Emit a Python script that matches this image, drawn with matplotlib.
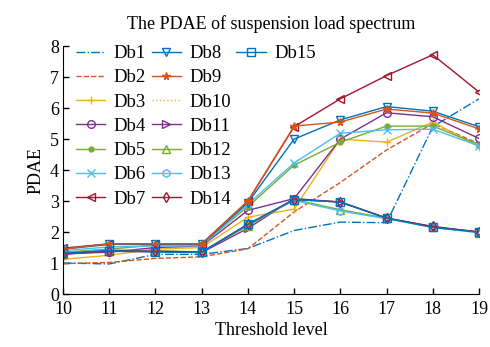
from matplotlib import pyplot as plt
from matplotlib.lines import Line2D

# Niveles de umbral (eje x)
levels = [10, 11, 12, 13, 14, 15, 16, 17, 18, 19]

db1 = [1.00, 0.97, 1.28, 1.28, 1.47, 2.05, 2.32, 2.30, 5.40, 6.30]
db2 = [0.98, 1.02, 1.15, 1.20, 1.46, 2.65, 3.60, 4.65, 5.50, 4.85]
db3 = [1.12, 1.25, 1.45, 1.50, 2.48, 2.74, 5.00, 4.90, 5.55, 4.75]
db4 = [1.30, 1.35, 1.50, 1.55, 2.70, 3.08, 5.00, 5.85, 5.72, 5.02]
db5 = [1.35, 1.45, 1.58, 1.60, 2.82, 4.16, 4.90, 5.42, 5.42, 4.82]
db6 = [1.40, 1.52, 1.55, 1.55, 2.90, 4.23, 5.19, 5.30, 5.32, 4.78]
db7 = [1.48, 1.62, 1.62, 1.62, 3.00, 5.40, 6.30, 7.05, 7.72, 6.52]
db8 = [1.45, 1.60, 1.60, 1.60, 2.95, 5.00, 5.62, 6.05, 5.90, 5.40]
db9 = [1.45, 1.62, 1.62, 1.62, 3.00, 5.42, 5.55, 5.97, 5.84, 5.33]
db10 = [1.30, 1.40, 1.38, 1.35, 2.25, 3.05, 2.95, 2.45, 2.15, 2.00]
db11 = [1.28, 1.38, 1.36, 1.34, 2.12, 3.08, 2.97, 2.45, 2.17, 2.00]
db12 = [1.30, 1.42, 1.40, 1.36, 2.20, 3.05, 2.72, 2.45, 2.15, 1.98]
db13 = [1.33, 1.42, 1.38, 1.36, 2.25, 3.02, 2.68, 2.43, 2.15, 1.98]
db14 = [1.30, 1.40, 1.38, 1.35, 2.25, 3.05, 2.97, 2.45, 2.18, 2.00]
db15 = [1.32, 1.40, 1.36, 1.34, 2.25, 3.05, 2.97, 2.45, 2.15, 2.00]

series = [db1, db2, db3, db4, db5, db6, db7, db8,
          db9, db10, db11, db12, db13, db14, db15]
names = [f'Db{i}' for i in range(1, 16)]

# Colores por defecto de MATLAB
blue = '#0072BD'
orange = '#D95319'
yellow = '#EDB120'
purple = '#7E2F8E'
green = '#77AC30'
cyan = '#4DBEEE'
darkred = '#A2142F'

styles = [
    (blue, '-.', None),
    (orange, '--', None),
    (yellow, '-', '+'),
    (purple, '-', 'o'),
    (green, '-', '.'),
    (cyan, '-', 'x'),
    (darkred, '-', '<'),
    (blue, '-', 'v'),
    (orange, '-', '*'),
    (yellow, ':', None),
    (purple, '-', '>'),
    (green, '-', '^'),
    (cyan, '-', 'h'),
    (darkred, '-', 'd'),
    (blue, '-', 's'),
]

plt.rcParams['font.family'] = ['Liberation Serif', 'DejaVu Serif']

fig = plt.figure(figsize=(4.9, 3.47), dpi=100)
ax = fig.add_axes([0.1286, 0.1527, 0.849, 0.7143])

handles = []
for data, name, (color, ls, mk) in zip(series, names, styles):
    filled = mk in ('.', '*')
    line, = ax.plot(levels, data, color=color, linestyle=ls, marker=mk,
                    markersize=5.5 if mk != '.' else 7,
                    markerfacecolor=color if filled else 'none',
                    markeredgewidth=1, linewidth=1.0, label=name)
    handles.append(line)

# Leyenda en 3 columnas: 7 + 7 + 1
blank = Line2D([], [], linestyle='none', marker=None)
order = handles[:7] + handles[7:14] + [handles[14]] + [blank] * 6
labels = names[:7] + names[7:14] + [names[14]] + [''] * 6
ax.legend(order, labels, ncol=3, frameon=False, loc='upper left',
          bbox_to_anchor=(0.005, 1.05), fontsize=13.5, handlelength=1.55,
          handletextpad=0.45, columnspacing=0.3, labelspacing=0.38,
          borderpad=0.1)

ax.set_xlim(10, 19)
ax.set_ylim(0, 8)
ax.set_xticks(levels)
ax.set_yticks(range(0, 9))
ax.spines['top'].set_visible(False)
ax.spines['right'].set_visible(False)
ax.tick_params(direction='in', labelsize=13, length=4, width=1, pad=3)
ax.tick_params(axis='x', pad=5)

ax.set_title('The PDAE of suspension load spectrum', fontsize=13, pad=12)
ax.set_xlabel('Threshold level', fontsize=13, labelpad=3)
ax.set_ylabel('PDAE', fontsize=13, labelpad=4)

fig.savefig('out.png', dpi=100)
